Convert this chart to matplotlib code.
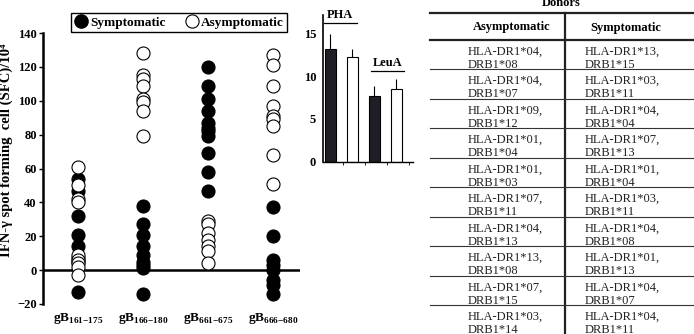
import matplotlib
matplotlib.use("Agg")
import matplotlib.pyplot as plt
from matplotlib.lines import Line2D

plt.rcParams["font.family"] = ["Liberation Serif", "DejaVu Serif"]
plt.rcParams["mathtext.fontset"] = "custom"
plt.rcParams["mathtext.rm"] = "Liberation Serif"
plt.rcParams["mathtext.bf"] = "Liberation Serif:bold"

W, H = 694, 334

# ---- scatter data: IFN-g SFC per peptide ----
peptides = [r"$\mathbf{gB}_{\mathbf{161{-}175}}$", r"$\mathbf{gB}_{\mathbf{166{-}180}}$",
            r"$\mathbf{gB}_{\mathbf{661{-}675}}$", r"$\mathbf{gB}_{\mathbf{666{-}680}}$"]
symptomatic = [
    [54, 47, 32, 21, 14, 7, 5, -13],
    [38, 27, 21, 14, 9, 5, 3, 1, -14],
    [120, 109, 101, 94, 87, 84, 82, 79, 69, 58, 47],
    [37, 20, 6, 3, 0, -6, -9, -14],
]
asymptomatic = [
    [61, 50, 42, 40, 9, 6, 4, 2, -3],
    [128, 115, 113, 109, 101, 99, 94, 79],
    [29, 27, 22, 18, 14, 11, 4],
    [127, 121, 109, 97, 91, 89, 85, 68, 51],
]

# ---- inset bars: mitogen controls ----
bar_groups = ["PHA", "LeuA"]
bar_means = [13.2, 12.2, 7.7, 8.5]
bar_err = [1.7, 1.0, 1.1, 1.2]

# ---- HLA table ----
asym_hla = [("HLA-DR1*04,", "DRB1*08"), ("HLA-DR1*04,", "DRB1*07"), ("HLA-DR1*09,", "DRB1*12"),
            ("HLA-DR1*01,", "DRB1*04"), ("HLA-DR1*01,", "DRB1*03"), ("HLA-DR1*07,", "DRB1*11"),
            ("HLA-DR1*04,", "DRB1*13"), ("HLA-DR1*13,", "DRB1*08"), ("HLA-DR1*07,", "DRB1*15"),
            ("HLA-DR1*03,", "DRB1*14")]
sym_hla = [("HLA-DR1*13,", "DRB1*15"), ("HLA-DR1*03,", "DRB1*11"), ("HLA-DR1*04,", "DRB1*04"),
           ("HLA-DR1*07,", "DRB1*13"), ("HLA-DR1*01,", "DRB1*04"), ("HLA-DR1*03,", "DRB1*11"),
           ("HLA-DR1*04,", "DRB1*08"), ("HLA-DR1*01,", "DRB1*13"), ("HLA-DR1*04,", "DRB1*07"),
           ("HLA-DR1*04,", "DRB1*11")]


def box(x0, y0, x1, y1):
    """pixel box (top-left origin) -> figure rect"""
    return [x0 / W, 1 - y1 / H, (x1 - x0) / W, (y1 - y0) / H]


fig = plt.figure(figsize=(W / 100, H / 100), dpi=100)

# ================= main scatter =================
ax = fig.add_axes(box(43, 33, 300, 304))
for i in range(len(peptides)):
    ax.scatter([i] * len(symptomatic[i]), symptomatic[i], s=88, c="black",
               edgecolors="black", linewidths=0.8, zorder=3)
    ax.scatter([i] * len(asymptomatic[i]), asymptomatic[i], s=88, c="white",
               edgecolors="black", linewidths=0.8, zorder=3)
ax.axhline(0, color="black", lw=1.8, zorder=2)
ax.set_xlim(-0.54, 3.42)
ax.set_ylim(-20, 140)
ax.set_yticks(range(-20, 141, 20))
ax.set_xticks(range(len(peptides)))
ax.set_xticklabels(peptides, fontsize=9.5)
ax.tick_params(axis="x", length=0, pad=5)
ax.tick_params(axis="y", length=3, width=1, pad=1.5, labelsize=9)
for lbl in ax.get_yticklabels():
    lbl.set_fontweight("bold")
for s in ["top", "right", "bottom"]:
    ax.spines[s].set_visible(False)
ax.spines["left"].set_linewidth(1.8)
fig.text(6 / W, 1 - 150 / H, "IFN-\u03b3 spot forming  cell (SFC)/10\u2074", rotation=90,
         ha="center", va="center", fontsize=10.5, fontweight="bold")

h_sym = Line2D([], [], marker="o", ls="", markersize=9.5, mfc="black", mec="black")
h_asym = Line2D([], [], marker="o", ls="", markersize=9.5, mfc="white", mec="black", mew=0.8)
leg = fig.legend([h_sym, h_asym], ["Symptomatic", "Asymptomatic"], ncol=2,
                 loc="center", bbox_to_anchor=(179 / W, 1 - 22.5 / H),
                 frameon=True, fancybox=False, edgecolor="black", framealpha=1,
                 prop={"weight": "bold", "size": 9.5}, handletextpad=0.2,
                 columnspacing=1.5, borderpad=0.25, handlelength=1.0)
leg.get_frame().set_linewidth(1.0)

# ================= inset bars =================
ax2 = fig.add_axes(box(323, 13, 413, 161.7))
xb = range(len(bar_means))
colors = ["#1e1e24", "white", "#1e1e24", "white"]
ax2.bar(xb, bar_means, width=0.5, color=colors, edgecolor="black", linewidth=0.8, zorder=2)
ax2.errorbar(xb, bar_means, yerr=[[0] * len(bar_err), bar_err], fmt="none",
             ecolor="black", elinewidth=0.8, capsize=0, zorder=1)
ax2.set_xlim(-0.34, 3.75)
ax2.set_ylim(0, 17.4)
ax2.set_yticks([0, 5, 10, 15])
ax2.set_xticks([0.55, 1.55, 2.55, 3.55])
ax2.set_xticklabels([])
ax2.tick_params(axis="x", length=2, width=0.6)
ax2.tick_params(axis="y", length=0, pad=5, labelsize=9)
for lbl in ax2.get_yticklabels():
    lbl.set_fontweight("bold")
for s in ["top", "right"]:
    ax2.spines[s].set_visible(False)
ax2.spines["left"].set_linewidth(1.2)
ax2.spines["bottom"].set_linewidth(1.0)
ax2.spines["left"].set_bounds(0, 17.2)
# group labels with an underline
for name, (x0, x1), ylab in zip(bar_groups, [(-0.3, 1.2), (1.84, 3.34)], [16.2, 10.6]):
    ax2.plot([x0, x1], [ylab, ylab], color="black", lw=0.9, clip_on=False)
    ax2.text((x0 + x1) / 2, ylab + 0.3, name, ha="center", va="bottom",
             fontsize=9, fontweight="bold", clip_on=False)

# ================= HLA table =================
ax3 = fig.add_axes(box(420, 0, 694, 334))
ax3.set_xlim(420, 694)
ax3.set_ylim(334, 0)
ax3.axis("off")
row_h = 29.5
top, head = 13, 39.5
ax3.text(561, 6, "Donors", ha="center", va="baseline", fontsize=9, fontweight="bold")
ax3.plot([430, 694], [top, top], color="#222", lw=1.6)
ax3.plot([430, 694], [head, head], color="#222", lw=1.6)
ax3.plot([565, 565], [top, 334], color="#222", lw=1.6)
ax3.text(512, 27, "Asymptomatic", ha="center", va="center", fontsize=9, fontweight="bold")
ax3.text(626, 28, "Symptomatic", ha="center", va="center", fontsize=9, fontweight="bold")
for r, (a, s) in enumerate(zip(asym_hla, sym_hla)):
    y0 = head + r * row_h
    if r > 0:
        ax3.plot([430, 694], [y0, y0], color="#333", lw=0.8)
    for k in range(2):
        ax3.text(468, y0 + 12 + 13.3 * k, a[k], ha="left", va="center", fontsize=9,
                 color="#222")
        ax3.text(585, y0 + 12 + 13.3 * k, s[k], ha="left", va="center", fontsize=9,
                 color="#222")

fig.savefig("out.png", dpi=100)
